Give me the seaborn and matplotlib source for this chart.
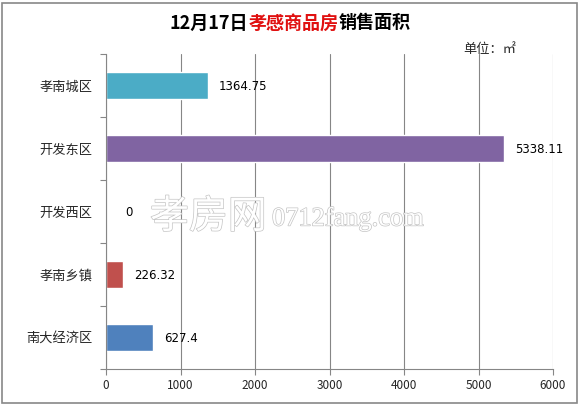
import matplotlib
matplotlib.use("Agg")
import matplotlib.pyplot as plt
import matplotlib.patheffects as pe
from matplotlib.patches import Rectangle
import seaborn as sns
import pandas as pd
import numpy as np

categories = ["孝南城区", "开发东区", "开发西区", "孝南乡镇", "南大经济区"]
values = [1364.75, 5338.11, 0, 226.32, 627.4]
value_labels = ["1364.75", "5338.11", "0", "226.32", "627.4"]
colors = ["#4BACC6", "#8064A2", "#9BBB59", "#C0504D", "#4F81BD"]
xticks = [0, 1000, 2000, 3000, 4000, 5000, 6000]

sns.set_theme(style="white")
plt.rcParams['font.family'] = ['Noto Sans CJK SC', 'DejaVu Sans']

df = pd.DataFrame({"cat": categories, "val": values})

fig = plt.figure(figsize=(5.79, 4.05), dpi=100)
ax = fig.add_axes([106/579, 36/405, (553-106)/579, (369-54)/405])

sns.barplot(data=df, y="cat", x="val", hue="cat", palette=colors, order=categories,
            hue_order=categories, orient="h", width=0.42, legend=False, ax=ax,
            saturation=1)

ax.set_xlim(0, 6000)
ax.set_ylim(len(categories) - 0.5, -0.5)
ax.set_xticks(xticks)
ax.set_xticklabels([str(t) for t in xticks], fontsize=8.5)
ax.set_yticks(range(len(categories)))
ax.set_yticklabels(categories, fontsize=9.5)
ax.set_yticks(np.arange(-0.5, len(categories), 1.0), minor=True)
ax.tick_params(axis="y", which="major", length=0, pad=10)
ax.tick_params(axis="y", which="minor", length=4.5, width=0.8, color="#868686", left=True)
ax.tick_params(axis="x", which="major", length=4.5, width=0.8, color="#868686", bottom=True, pad=3)
ax.set_xlabel("")
ax.set_ylabel("")
ax.xaxis.grid(True, color="#868686", linewidth=0.8)
ax.set_axisbelow(True)
for s in ["top", "right"]:
    ax.spines[s].set_visible(False)
for s in ["left", "bottom"]:
    ax.spines[s].set_color("#868686")
    ax.spines[s].set_linewidth(0.8)

for i, (v, lab) in enumerate(zip(values, value_labels)):
    ax.annotate(lab, xy=(v, i), xytext=(8 if v > 0 else 14, -1), textcoords="offset points",
                ha="left", va="center", fontsize=8.5, color="black",
                family=['DejaVu Sans'])

# watermark
wm_effect = [pe.Stroke(linewidth=1.0, foreground="#c4c4c4"), pe.Normal()]
fig.text(150/579, 1 - 217/405, "孝房网", fontsize=28, color="white", ha="left", va="center",
         path_effects=wm_effect, zorder=5)
fig.text(272/579, 1 - 219/405, "0712fang.com", fontsize=19, color="white", ha="left", va="center",
         family=["Liberation Serif"], path_effects=wm_effect, zorder=5)

# title (multicolor)
fig.canvas.draw()
renderer = fig.canvas.get_renderer()
parts = [("12月17日", "black"), ("孝感商品房", "#E01010"), ("销售面积", "black")]
texts = []
for s, c in parts:
    t = fig.text(0, 1 - 23/405, s, fontsize=13, fontweight="bold", color=c, ha="left", va="center")
    texts.append(t)
widths = [t.get_window_extent(renderer).width for t in texts]
total = sum(widths)
x0 = 290 - total / 2
for t, w in zip(texts, widths):
    t.set_x(x0 / 579)
    x0 += w

fig.text(463/579, 1 - 50/405, "单位：㎡", fontsize=9.5, ha="left", va="center")

fig.patches.append(Rectangle((2/579, 2/405), 575/579, 400/405, transform=fig.transFigure,
                             fill=False, edgecolor="#888888", linewidth=1.2))

fig.savefig("out.png", dpi=100)
